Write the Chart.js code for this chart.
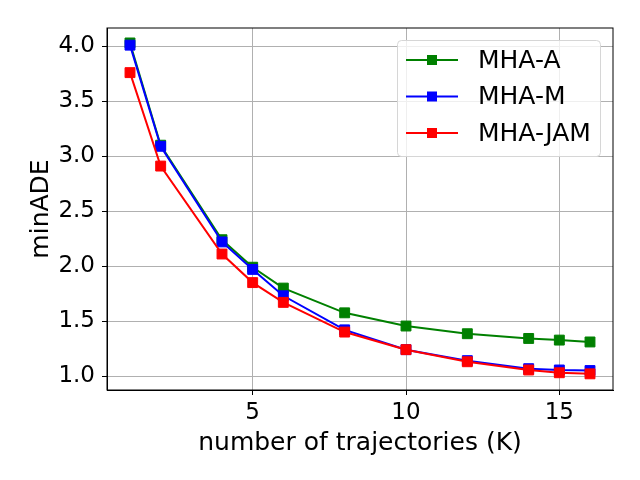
<!DOCTYPE html>
<html>
<head>
<meta charset="utf-8">
<script src="https://cdn.jsdelivr.net/npm/chart.js@4"></script>
<style>
  html, body { margin: 0; padding: 0; background: #fff; }
  canvas { display: block; }
</style>
</head>
<body>
<canvas id="chartAde" width="640" height="480"></canvas>
<script>
const kValues = [1, 2, 4, 5, 6, 8, 10, 12, 14, 15, 16]
const mhaA = [4.03, 3.10, 2.24, 1.99, 1.80, 1.575, 1.455, 1.385, 1.342, 1.327, 1.31]
const mhaM = [4.01, 3.09, 2.22, 1.97, 1.73, 1.42, 1.24, 1.14, 1.067, 1.055, 1.05]
const mhaJam = [3.76, 2.91, 2.11, 1.85, 1.67, 1.40, 1.24, 1.13, 1.055, 1.03, 1.02]
const seriesNames = ['MHA-A', 'MHA-M', 'MHA-JAM']
const xTicks = [5, 10, 15]
const yTicks = [1.0, 1.5, 2.0, 2.5, 3.0, 3.5, 4.0]

const colores = ['#008000', '#0000ff', '#ff0000']
const FONT = 'DejaVu Sans'

const toPoints = (vals) => kValues.map((k, i) => ({ x: k, y: vals[i] }))

const makeDataset = (label, vals, color, order) => ({
    label : label,
    data : toPoints(vals),
    showLine : true,
    borderColor : color,
    backgroundColor : color,
    borderWidth : 2,
    pointStyle : 'rect',
    pointRadius : 7,
    pointBorderWidth : 1,
    pointBorderColor : color,
    pointBackgroundColor : color,
    order : order
})

// frame around the plot area
const framePlugin = {
    id : 'frame',
    afterDatasetsDraw(chart) {
        const { ctx, chartArea : a } = chart
        ctx.save()
        ctx.strokeStyle = '#000'
        ctx.lineWidth = 1
        ctx.strokeRect(a.left, a.top, a.right - a.left, a.bottom - a.top)
        ctx.restore()
    }
}

// matplotlib style legend (line + marker) in the upper right
const legendPlugin = {
    id : 'mplLegend',
    afterDraw(chart) {
        const { ctx } = chart
        const x0 = 397.5, y0 = 40.5, w = 203, h = 116
        ctx.save()
        ctx.beginPath()
        ctx.roundRect(x0, y0, w, h, 4)
        ctx.fillStyle = 'rgba(255,255,255,0.8)'
        ctx.fill()
        ctx.strokeStyle = '#d6d6d6'
        ctx.lineWidth = 1
        ctx.stroke()
        ctx.font = `25px "${FONT}"`
        ctx.textBaseline = 'middle'
        ctx.textAlign = 'left'
        chart.data.datasets.forEach((ds, i) => {
            const y = 60 + i * 36.5
            ctx.strokeStyle = ds.borderColor
            ctx.lineWidth = 2
            ctx.beginPath()
            ctx.moveTo(406, y)
            ctx.lineTo(458, y)
            ctx.stroke()
            ctx.fillStyle = ds.borderColor
            ctx.fillRect(427, y - 5, 10, 10)
            ctx.fillStyle = '#000'
            ctx.fillText(ds.label, 478, y + 1)
        })
        ctx.restore()
    }
}

const canvas = document.getElementById('chartAde')
const context = canvas.getContext('2d')

const chartAde = new Chart(context, {
    type : 'scatter',
    data : {
        datasets : [
            makeDataset(seriesNames[0], mhaA, colores[0], 3),
            makeDataset(seriesNames[1], mhaM, colores[1], 2),
            makeDataset(seriesNames[2], mhaJam, colores[2], 1)
        ]
    },
    options : {
        responsive : false,
        animation : false,
        devicePixelRatio : 1,
        layout : { padding : { top : 28, right : 27, left : 0, bottom : 0 } },
        plugins : {
            legend : { display : false },
            tooltip : { enabled : false }
        },
        scales : {
            x : {
                type : 'linear',
                min : 0.25,
                max : 16.75,
                afterBuildTicks : (scale) => { scale.ticks = xTicks.map(v => ({ value : v })) },
                afterFit : (scale) => { scale.height = 90 },
                ticks : {
                    color : '#000',
                    font : { family : FONT, size : 23 },
                    padding : 4,
                    maxRotation : 0
                },
                grid : { color : '#b0b0b0', lineWidth : 1, tickColor : '#000', tickLength : 5 },
                border : { color : '#000', width : 1 },
                title : {
                    display : true,
                    text : 'number of trajectories (K)',
                    color : '#000',
                    font : { family : FONT, size : 25 },
                    padding : { top : 0, bottom : 22 }
                }
            },
            y : {
                type : 'linear',
                min : 0.873,
                max : 4.166,
                afterBuildTicks : (scale) => { scale.ticks = yTicks.map(v => ({ value : v })) },
                afterFit : (scale) => { scale.width = 107 },
                ticks : {
                    color : '#000',
                    font : { family : FONT, size : 23 },
                    padding : 7,
                    callback : (v) => Number(v).toFixed(1)
                },
                grid : { color : '#b0b0b0', lineWidth : 1, tickColor : '#000', tickLength : 5 },
                border : { color : '#000', width : 1 },
                title : {
                    display : true,
                    text : 'minADE',
                    color : '#000',
                    font : { family : FONT, size : 25 },
                    padding : { top : 26, bottom : 0 }
                }
            }
        }
    },
    plugins : [framePlugin, legendPlugin]
})
</script>
</body>
</html>
